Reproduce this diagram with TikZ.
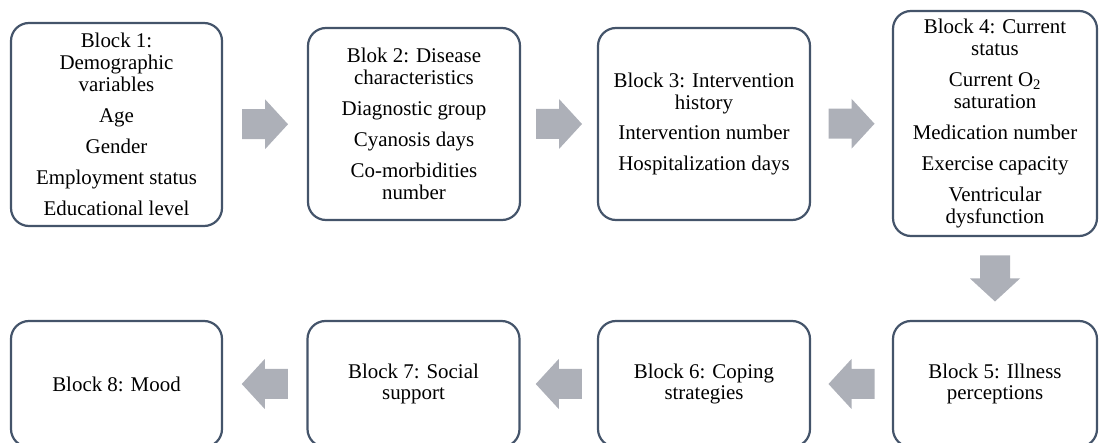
\documentclass[tikz,border=0pt]{standalone}
\usepackage{fontspec}
\setmainfont{Liberation Serif}
\usetikzlibrary{calc}
\definecolor{boxline}{HTML}{44546A}
\definecolor{arrfill}{HTML}{ADB0B8}
\begin{document}
\begin{tikzpicture}[x=1bp,y=-1bp,
  blk/.style={draw=boxline, line width=2.2bp, rounded corners=18bp, fill=white,
    align=center, inner sep=0pt, font=\fontsize{21}{22}\selectfont},
  blockarrow/.pic={\fill[arrfill] (-23,-15) -- (0,-15) -- (0,-25) -- (23,0) -- (0,25) -- (0,15) -- (-23,15) -- cycle;}]
\useasboundingbox (0,0) rectangle (1099,443);
% top row
\node[blk, minimum width=211bp, minimum height=203bp] (b1) at (116.5,124.5)
  {Block 1:\\Demographic\\variables\\[9bp]Age\\[9bp]Gender\\[9bp]Employment status\\[9bp]Educational level};
\node[blk, minimum width=212bp, minimum height=192bp] (b2) at (414,124)
  {Blok 2: Disease\\characteristics\\[9bp]Diagnostic group\\[9bp]Cyanosis days\\[9bp]Co-morbidities\\number};
\node[blk, minimum width=212bp, minimum height=192bp] (b3) at (704,124)
  {Block 3: Intervention\\history\\[9bp]Intervention number\\[9bp]Hospitalization days};
\node[blk, minimum width=204bp, minimum height=225bp] (b4) at (995,123.5)
  {Block 4: Current\\status\\[9bp]Current O\textsubscript{2}\\saturation\\[9bp]Medication number\\[9bp]Exercise capacity\\[9bp]Ventricular\\dysfunction};
% bottom row
\node[blk, minimum width=204bp, minimum height=126bp] (b5) at (995,384)
  {Block 5: Illness\\perceptions};
\node[blk, minimum width=212bp, minimum height=126bp] (b6) at (704,384)
  {Block 6: Coping\\strategies};
\node[blk, minimum width=212bp, minimum height=126bp] (b7) at (413.5,384)
  {Block 7: Social\\support};
\node[blk, minimum width=211bp, minimum height=126bp] (b8) at (116.5,384)
  {Block 8: Mood};
% arrows
\coordinate (m12) at ($(b1.east)!0.5!(b2.west)$);
\coordinate (m23) at ($(b2.east)!0.5!(b3.west)$);
\coordinate (m34) at ($(b3.east)!0.5!(b4.west)$);
\coordinate (m45) at ($(b4.south)!0.5!(b5.north)$);
\coordinate (m56) at ($(b5.west)!0.5!(b6.east)$);
\coordinate (m67) at ($(b6.west)!0.5!(b7.east)$);
\coordinate (m78) at ($(b7.west)!0.5!(b8.east)$);
\pic at (m12) {blockarrow};
\pic at (m23) {blockarrow};
\pic at (m34) {blockarrow};
\pic[rotate=-90] at (m45) {blockarrow};
\pic[rotate=180] at (m56) {blockarrow};
\pic[rotate=180] at (m67) {blockarrow};
\pic[rotate=180] at (m78) {blockarrow};
\end{tikzpicture}
\end{document}
